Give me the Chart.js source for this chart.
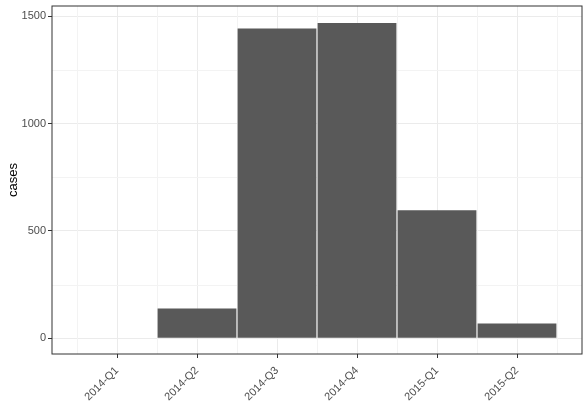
<!DOCTYPE html>
<html>
<head>
<meta charset="utf-8">
<script src="https://cdn.jsdelivr.net/npm/chart.js@4"></script>
<style>
  html, body { margin: 0; padding: 0; background: #fff; }
  #wrap { width: 588px; height: 420px; }
</style>
</head>
<body>
<div id="wrap"><canvas id="grafico"></canvas></div>
<script>
var quarters = ["2014-Q1", "2014-Q2", "2014-Q3", "2014-Q4", "2015-Q1", "2015-Q2"];
var cases = [0, 138, 1444, 1470, 597, 68];
var yTicks = [0, 500, 1000, 1500];

document.addEventListener("DOMContentLoaded", function () {
  var points = quarters.map(function (q, i) {
    return { x: i + 1, y: cases[i] };
  });

  // minor grid (half steps) + panel border like theme_bw
  var panelBits = {
    id: "panelBits",
    beforeDatasetsDraw: function (chart) {
      var a = chart.chartArea;
      var c = chart.ctx;
      var xs = chart.scales.x, ys = chart.scales.y;
      c.save();
      c.strokeStyle = "#f3f3f3";
      c.lineWidth = 1;
      for (var i = 0; i <= quarters.length; i++) {
        var px = Math.round(xs.getPixelForValue(i + 0.5)) + 0.5;
        c.beginPath(); c.moveTo(px, a.top); c.lineTo(px, a.bottom); c.stroke();
      }
      for (var j = 0; j < yTicks.length - 1; j++) {
        var py = Math.round(ys.getPixelForValue(yTicks[j] + 250)) + 0.5;
        c.beginPath(); c.moveTo(a.left, py); c.lineTo(a.right, py); c.stroke();
      }
      c.restore();
    },
    afterDraw: function (chart) {
      var a = chart.chartArea;
      var c = chart.ctx;
      c.save();
      c.strokeStyle = "#333333";
      c.lineWidth = 1;
      c.strokeRect(a.left, a.top, a.right - a.left, a.bottom - a.top);
      c.restore();
    },
  };

  var ctx = document.getElementById("grafico").getContext("2d");
  var grafico = new Chart(ctx, {
    type: "bar",
    data: {
      datasets: [
        {
          label: "cases",
          data: points,
          backgroundColor: "#595959",
          borderWidth: 0,
          barPercentage: 0.985,
          categoryPercentage: 1,
        },
      ],
    },
    options: {
      responsive: true,
      maintainAspectRatio: false,
      animation: false,
      layout: { padding: { top: 6, right: 6, left: 0, bottom: 0 } },
      plugins: {
        legend: { display: false },
        tooltip: { enabled: false },
      },
      scales: {
        x: {
          type: "linear",
          bounds: "data",
          offset: false,
          min: 0.1875,
          max: 6.8125,
          afterBuildTicks: function (axis) {
            axis.ticks = quarters.map(function (q, i) { return { value: i + 1 }; });
          },
          afterFit: function (scale) {
            scale.height = 66;
            scale.paddingLeft = 0;
            scale.paddingRight = 0;
          },
          border: { display: false },
          grid: {
            offset: false,
            color: "#ebebeb",
            tickColor: "#333333",
            tickLength: 4,
          },
          ticks: {
            autoSkip: false,
            maxRotation: 45,
            minRotation: 45,
            padding: 6,
            color: "#4d4d4d",
            font: { family: "'Liberation Sans', Arial, sans-serif", size: 11 },
            callback: function (v) { return quarters[Math.round(v) - 1]; },
          },
        },
        y: {
          bounds: "data",
          min: -73.75,
          max: 1548.75,
          afterBuildTicks: function (axis) {
            axis.ticks = yTicks.map(function (v) { return { value: v }; });
          },
          afterFit: function (scale) {
            scale.width = 52;
            scale.paddingTop = 0;
            scale.paddingBottom = 0;
          },
          border: { display: false },
          grid: {
            color: "#ebebeb",
            tickColor: "#333333",
            tickLength: 4,
          },
          title: {
            display: true,
            text: "cases",
            color: "#000000",
            padding: { top: 6, bottom: 0 },
            font: { family: "'Liberation Sans', Arial, sans-serif", size: 13 },
          },
          ticks: {
            padding: 2,
            color: "#4d4d4d",
            font: { family: "'Liberation Sans', Arial, sans-serif", size: 11 },
            callback: function (v) { return String(v); },
          },
        },
      },
    },
    plugins: [panelBits],
  });
});
</script>
</body>
</html>
